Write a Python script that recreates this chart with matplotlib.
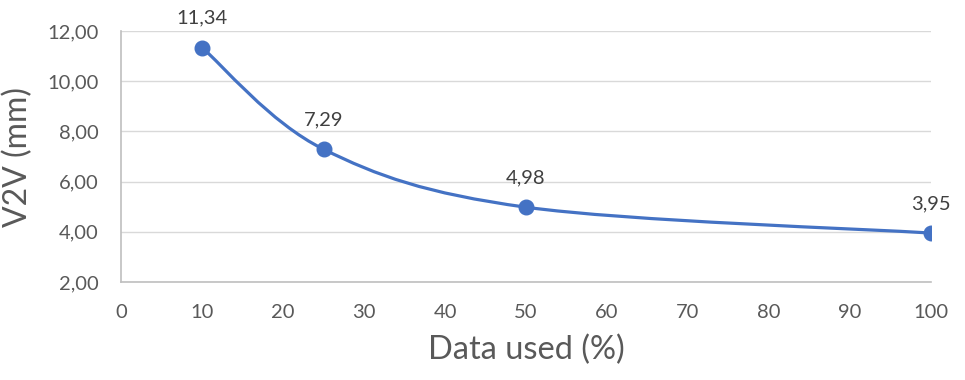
import matplotlib
matplotlib.use("Agg")
import matplotlib.pyplot as plt
import numpy as np
from matplotlib.path import Path
from matplotlib.patches import PathPatch

# data
data_used = [10, 25, 50, 100]
v2v_mm = [11.34, 7.29, 4.98, 3.95]
x_ticks = [0, 10, 20, 30, 40, 50, 60, 70, 80, 90, 100]
y_ticks = [2, 4, 6, 8, 10, 12]

LINE_COLOR = "#4472C4"
TEXT_COLOR = "#595959"

plt.rcParams["font.family"] = ["Lato", "DejaVu Sans"]


def smooth_path(xs, ys):
    # Excel-like smoothed line: cubic bezier with catmull-rom control points
    pts = np.column_stack([xs, ys]).astype(float)
    n = len(pts)
    verts = [pts[0]]
    codes = [Path.MOVETO]
    for i in range(n - 1):
        p_prev = pts[max(i - 1, 0)]
        p0 = pts[i]
        p1 = pts[i + 1]
        p_next = pts[min(i + 2, n - 1)]
        c1 = p0 + (p1 - p_prev) / 6.0
        c2 = p1 - (p_next - p0) / 6.0
        verts += [c1, c2, p1]
        codes += [Path.CURVE4] * 3
    return Path(verts, codes)


fig = plt.figure(figsize=(9.65, 3.8), dpi=100)
ax = fig.add_axes([0.1254, 0.2579, 0.8394, 0.6605])

ax.add_patch(PathPatch(smooth_path(data_used, v2v_mm), facecolor="none",
                       edgecolor=LINE_COLOR, linewidth=2.3, capstyle="round",
                       zorder=3))
ax.plot(data_used, v2v_mm, linestyle="none", marker="o", markersize=10.5,
        color=LINE_COLOR, zorder=4)

for x, y in zip(data_used, v2v_mm):
    ax.annotate(f"{y:.2f}".replace(".", ","), (x, y), xytext=(0, 15),
                textcoords="offset points", ha="center", va="bottom",
                fontsize=14.5, color="#404040")

ax.set_xlim(0, 100)
ax.set_ylim(2, 12)
ax.set_xticks(x_ticks)
ax.set_yticks(y_ticks)
ax.set_yticklabels([f"{v:.2f}".replace(".", ",") for v in y_ticks])
ax.tick_params(axis="both", length=0, labelsize=14.5, labelcolor=TEXT_COLOR)
ax.tick_params(axis="y", pad=16)
ax.tick_params(axis="x", pad=16)

ax.grid(axis="y", color="#D9D9D9", linewidth=1.0)
ax.set_axisbelow(True)
for side in ["top", "right"]:
    ax.spines[side].set_visible(False)
for side in ["left", "bottom"]:
    ax.spines[side].set_color("#BFBFBF")
    ax.spines[side].set_linewidth(1.2)

ax.set_xlabel("Data used (%)", fontsize=23.5, color=TEXT_COLOR, labelpad=10)
ax.set_ylabel("V2V (mm)", fontsize=23, color=TEXT_COLOR, labelpad=10)

fig.savefig("out.png", dpi=100)
